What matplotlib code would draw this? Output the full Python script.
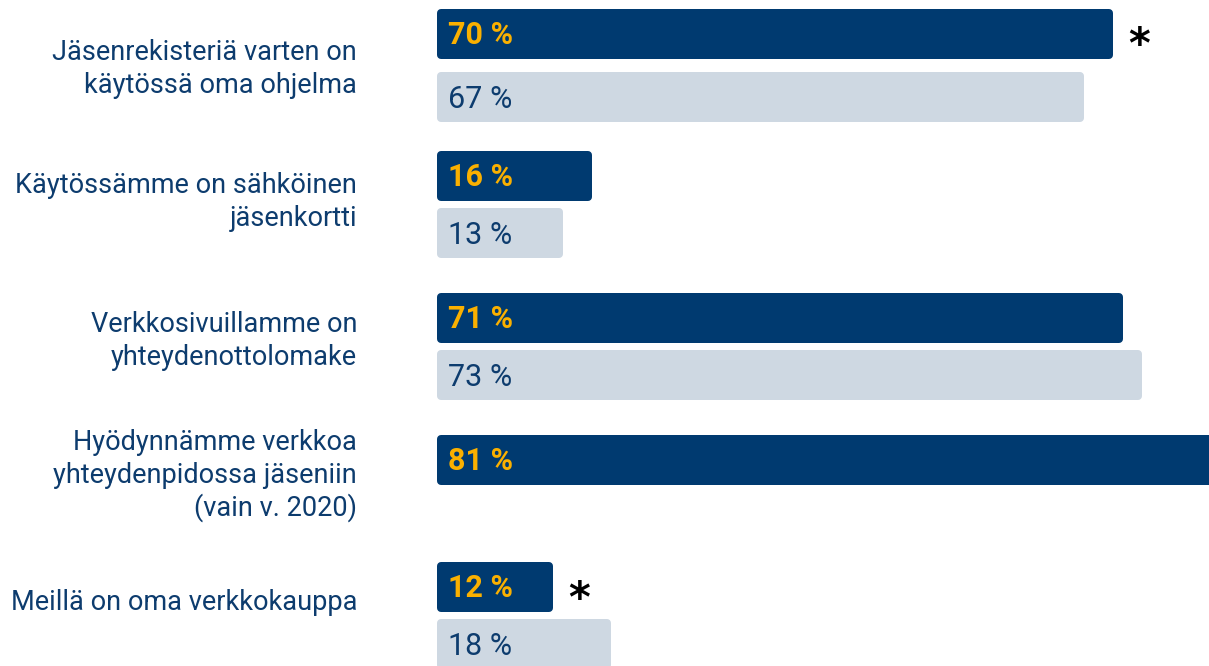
import matplotlib
matplotlib.use("Agg")
import matplotlib.pyplot as plt

# ---- data ----
categories = [
    "Jäsenrekisteriä varten on\nkäytössä oma ohjelma",
    "Käytössämme on sähköinen\njäsenkortti",
    "Verkkosivuillamme on\nyhteydenottolomake",
    "Hyödynnämme verkkoa\nyhteydenpidossa jäseniin\n(vain v. 2020)",
    "Meillä on oma verkkokauppa",
]
values_2020 = [70, 16, 71, 81, 12]
values_prev = [67, 13, 73, None, 18]
significant = [True, False, False, False, True]

# ---- layout (pixel positions on a 1209x666 canvas) ----
W, H = 1209, 666
X0 = 437          # pixel where 0 % starts
PX_PER_PCT = 9.66
dark_centers = [33.5, 175.7, 318.0, 460.0, 586.7]
light_centers = [97.0, 233.0, 375.3, None, 644.3]
label_first_baselines = [60, 193, 332, 450, 610]
LINE_PX = 33
BAR_H = 50
RADIUS = 4

NAVY = "#003A70"
LIGHT = "#CED8E2"
ORANGE = "#FAB000"
TEXT = "#0D3C6E"

FONT = ["Roboto", "DejaVu Sans"]
FS = 19.5
VFS = 22

fig = plt.figure(figsize=(W / 100, H / 100), dpi=100)
ax = fig.add_axes([0, 0, 1, 1])
ax.set_xlim(-X0 / PX_PER_PCT, (W - X0) / PX_PER_PCT)
ax.set_ylim(H, 0)
ax.axis("off")

lw_px = 2 * RADIUS
lw_pt = lw_px * 72 / 100
inset = RADIUS / PX_PER_PCT


def draw_bar(v, yc, color):
    ax.barh(yc, v - 2 * inset, left=inset, height=BAR_H - lw_px,
            color=color, edgecolor=color, linewidth=lw_pt,
            joinstyle="round", zorder=2)


for i, cat in enumerate(categories):
    v1 = values_2020[i]
    draw_bar(v1, dark_centers[i], NAVY)
    ax.text(11 / PX_PER_PCT, dark_centers[i] + 10.5, f"{v1} %",
            ha="left", va="baseline", fontsize=VFS, fontweight="bold",
            color=ORANGE, family=FONT, zorder=3)
    if significant[i]:
        ax.text(v1 + 26 / PX_PER_PCT, dark_centers[i] + 25, "*",
                ha="center", va="baseline", fontsize=30, fontweight="bold",
                color="black", family=["DejaVu Sans"], zorder=3)
    v2 = values_prev[i]
    if v2 is not None:
        draw_bar(v2, light_centers[i], LIGHT)
        ax.text(11 / PX_PER_PCT, light_centers[i] + 10.5, f"{v2} %",
                ha="left", va="baseline", fontsize=VFS,
                color=TEXT, family=FONT, zorder=3)
    lines = cat.split("\n")
    for j, line in enumerate(lines):
        ax.text((357 - X0) / PX_PER_PCT, label_first_baselines[i] + j * LINE_PX,
                line, ha="right", va="baseline", fontsize=FS, color=TEXT,
                family=FONT)

fig.savefig("out.png", dpi=100)
